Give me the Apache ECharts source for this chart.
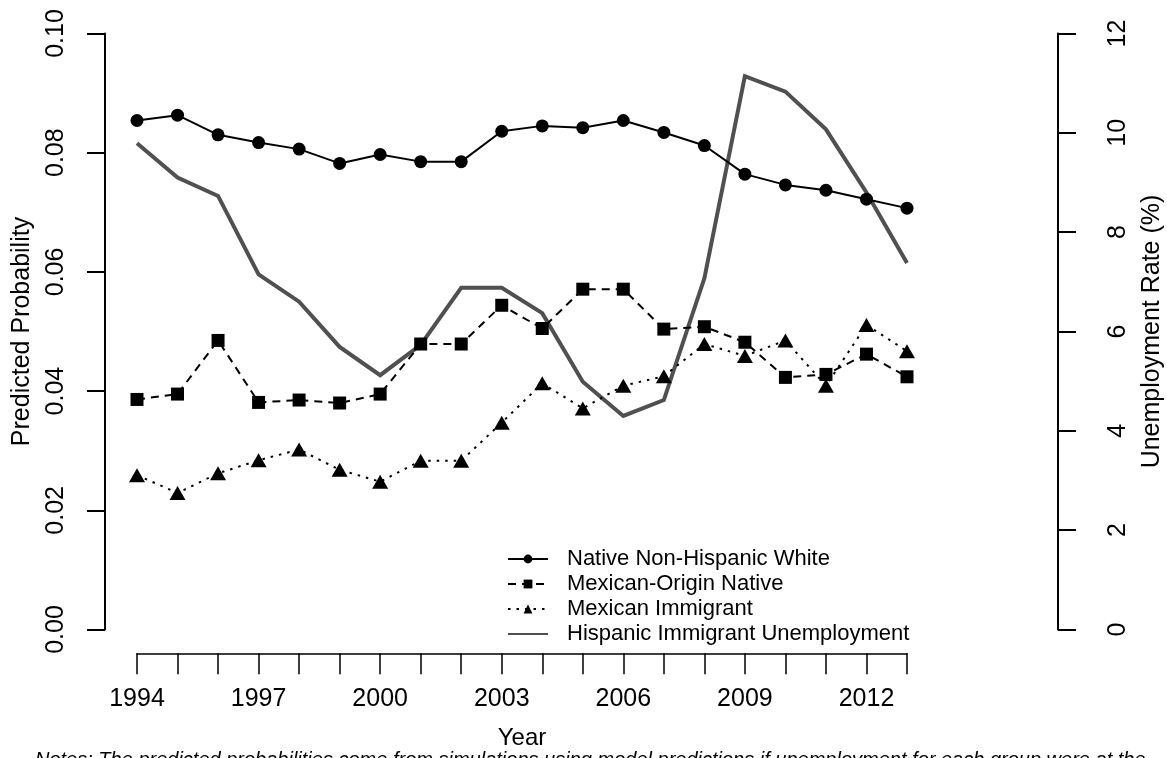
<!DOCTYPE html>
<html>
<head>
<meta charset="utf-8">
<script src="https://cdn.jsdelivr.net/npm/echarts@6/dist/echarts.min.js"></script>
<style>
  html, body { margin: 0; padding: 0; background: #ffffff; }
  #chart { width: 1167px; height: 758px; }
</style>
</head>
<body>
<div id="chart"></div>
<script>
// Survey years
const years = [1994, 1995, 1996, 1997, 1998, 1999, 2000, 2001, 2002, 2003,
               2004, 2005, 2006, 2007, 2008, 2009, 2010, 2011, 2012, 2013];

// Predicted probabilities by group
const nativeWhite = [0.0854, 0.0863, 0.0830, 0.0817, 0.0806, 0.0782, 0.0797, 0.0785, 0.0785, 0.0836,
                     0.0845, 0.0842, 0.0854, 0.0834, 0.0812, 0.0764, 0.0746, 0.0737, 0.0722, 0.0707];
const mexicanNative = [0.0386, 0.0395, 0.0485, 0.0381, 0.0385, 0.0380, 0.0395, 0.0479, 0.0479, 0.0544,
                       0.0505, 0.0571, 0.0571, 0.0504, 0.0508, 0.0482, 0.0423, 0.0428, 0.0462, 0.0424];
const mexicanImmigrant = [0.0259, 0.0229, 0.0262, 0.0284, 0.0302, 0.0268, 0.0248, 0.0283, 0.0283, 0.0347,
                          0.0413, 0.0371, 0.0409, 0.0425, 0.0479, 0.0459, 0.0485, 0.0409, 0.0511, 0.0467];

// Hispanic immigrant unemployment rate (%)
const unemployment = [9.79, 9.10, 8.73, 7.15, 6.60, 5.69, 5.12, 5.73, 6.88, 6.88,
                      6.37, 4.99, 4.30, 4.62, 7.07, 11.14, 10.83, 10.07, 8.80, 7.38];

// Axis tick labels
const yearLabels = [1994, 1997, 2000, 2003, 2006, 2009, 2012];
const probTicks = [0, 0.02, 0.04, 0.06, 0.08, 0.10];
const rateTicks = [0, 2, 4, 6, 8, 10, 12];

const seriesNames = ['Native Non-Hispanic White', 'Mexican-Origin Native',
                     'Mexican Immigrant', 'Hispanic Immigrant Unemployment'];

const FONT = '"Liberation Sans", Arial, Helvetica, sans-serif';
const pair = (arr) => years.map((y, i) => [y, arr[i]]);

const chart = echarts.init(document.getElementById('chart'), null, { renderer: 'canvas' });

const axisLineStyle = { color: '#000', width: 2 };

chart.setOption({
  backgroundColor: '#ffffff',
  animation: false,
  textStyle: { fontFamily: FONT, color: '#000' },
  grid: [
    // data area: y axes span exactly 0..0.10 and 0..12
    { left: 137, right: 260, top: 33.5, bottom: 128.5, containLabel: false, outerBoundsMode: 'none' },
    // year axis sits a little below the data area, as a detached axis
    { left: 137, right: 260, top: 33.5, bottom: 104.7, containLabel: false, outerBoundsMode: 'none' }
  ],
  xAxis: [
    {
      type: 'value',
      gridIndex: 0,
      min: years[0],
      max: years[years.length - 1],
      interval: 1,
      show: false
    },
    {
      type: 'value',
      gridIndex: 1,
      min: years[0],
      max: years[years.length - 1],
      interval: 1,
      splitLine: { show: false },
      axisLine: { show: true, lineStyle: { color: '#000', width: 1.5 } },
      axisTick: { show: true, inside: false, length: 21, lineStyle: { color: '#000', width: 1.5 } },
      axisLabel: {
        margin: 33,
        fontSize: 25,
        color: '#000',
        fontFamily: FONT,
        formatter: (v) => (yearLabels.indexOf(Math.round(v)) >= 0 ? String(Math.round(v)) : '')
      },
      name: 'Year',
      nameLocation: 'middle',
      nameGap: 73,
      nameTextStyle: { fontSize: 24, color: '#000', fontFamily: FONT }
    }
  ],
  yAxis: [
    {
      type: 'value',
      gridIndex: 0,
      position: 'left',
      offset: 32,
      min: probTicks[0],
      max: probTicks[probTicks.length - 1],
      interval: 0.02,
      splitLine: { show: false },
      axisLine: { show: true, lineStyle: axisLineStyle },
      axisTick: { show: true, inside: false, length: 18, lineStyle: { color: '#000', width: 2 } },
      axisLabel: {
        rotate: 90,
        margin: 36,
        fontSize: 25,
        color: '#000',
        fontFamily: FONT,
        formatter: (v) => v.toFixed(2)
      },
      name: 'Predicted Probability',
      nameLocation: 'middle',
      nameRotate: 90,
      nameGap: 70,
      nameTextStyle: { fontSize: 25, color: '#000', fontFamily: FONT }
    },
    {
      type: 'value',
      gridIndex: 0,
      position: 'right',
      offset: 151,
      min: rateTicks[0],
      max: rateTicks[rateTicks.length - 1],
      interval: 2,
      splitLine: { show: false },
      axisLine: { show: true, lineStyle: axisLineStyle },
      axisTick: { show: true, inside: false, length: 18, lineStyle: { color: '#000', width: 2 } },
      axisLabel: {
        rotate: 90,
        margin: 48,
        fontSize: 25,
        color: '#000',
        fontFamily: FONT
      },
      name: 'Unemployment Rate (%)',
      nameLocation: 'middle',
      nameRotate: 90,
      nameGap: 82,
      nameTextStyle: { fontSize: 25, color: '#000', fontFamily: FONT }
    },
    {
      type: 'value',
      gridIndex: 1,
      show: false
    }
  ],
  legend: {
    orient: 'vertical',
    left: 502,
    top: 543,
    itemWidth: 40,
    itemHeight: 11,
    itemGap: 3,
    textStyle: { fontSize: 22, color: '#000', fontFamily: FONT, padding: [0, 0, 0, 14] },
    data: [
      { name: seriesNames[0] },
      { name: seriesNames[1] },
      { name: seriesNames[2] },
      { name: seriesNames[3], itemStyle: { opacity: 0 } }
    ]
  },
  series: [
    {
      name: seriesNames[3],
      type: 'line',
      xAxisIndex: 0,
      yAxisIndex: 1,
      data: pair(unemployment),
      symbol: 'none',
      clip: false,
      lineStyle: { color: '#505050', width: 4, join: 'miter' },
      itemStyle: { color: '#505050' },
      z: 1
    },
    {
      name: seriesNames[0],
      type: 'line',
      xAxisIndex: 0,
      yAxisIndex: 0,
      data: pair(nativeWhite),
      symbol: 'circle',
      symbolSize: 13,
      clip: false,
      lineStyle: { color: '#000', width: 2, type: 'solid' },
      itemStyle: { color: '#000' },
      z: 3
    },
    {
      name: seriesNames[1],
      type: 'line',
      xAxisIndex: 0,
      yAxisIndex: 0,
      data: pair(mexicanNative),
      symbol: 'rect',
      symbolSize: 13,
      clip: false,
      lineStyle: { color: '#000', width: 2, type: [8, 6] },
      itemStyle: { color: '#000' },
      z: 3
    },
    {
      name: seriesNames[2],
      type: 'line',
      xAxisIndex: 0,
      yAxisIndex: 0,
      data: pair(mexicanImmigrant),
      symbol: 'triangle',
      symbolSize: [16, 14],
      clip: false,
      lineStyle: { color: '#000', width: 2, type: [2.5, 6] },
      itemStyle: { color: '#000' },
      z: 3
    }
  ],
  graphic: [
    {
      type: 'text',
      left: 35,
      top: 750,
      style: {
        text: 'Notes: The predicted probabilities come from simulations using model predictions if unemployment for each group were at the',
        font: 'italic 20px ' + FONT,
        fill: '#000'
      }
    }
  ]
});
</script>
</body>
</html>
